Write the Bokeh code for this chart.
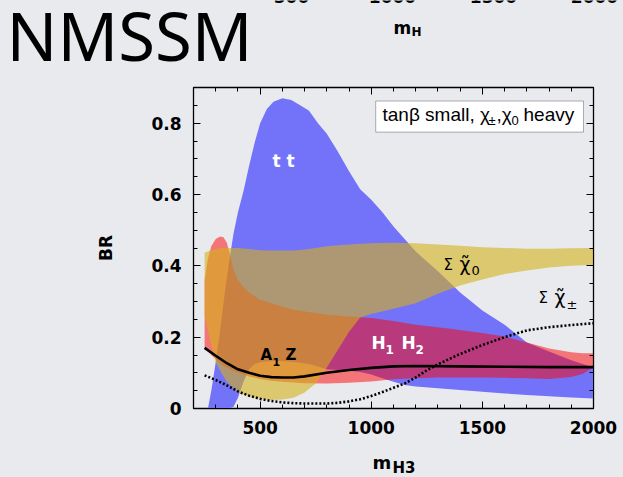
import numpy as np
from bokeh.plotting import figure
from bokeh.layouts import column
from bokeh.models import Range1d, LinearAxis, SingleIntervalTicker, Label, BoxAnnotation, Plot
from bokeh.embed import file_html
from bokeh.resources import INLINE

BG = "#e9eaee"

# ---- data ----
# t tbar band
tt_m = [265, 280, 300, 320, 340, 360, 380, 400, 425, 450, 475, 500, 530, 560, 600, 640, 680,
        720, 760, 800, 850, 900, 950, 1000, 1050, 1100, 1150, 1200, 1300, 1400, 1500, 1600,
        1700, 1800, 1900, 2000]
tt_hi = [0.0, 0.05, 0.13, 0.22, 0.32, 0.41, 0.49, 0.55, 0.61, 0.68, 0.745, 0.80, 0.84, 0.86,
         0.87, 0.865, 0.85, 0.835, 0.80, 0.77, 0.72, 0.665, 0.615, 0.585, 0.55, 0.51, 0.475,
         0.44, 0.385, 0.325, 0.275, 0.235, 0.185, 0.16, 0.135, 0.115]
tt_lo = [0.0, 0.0, 0.0, 0.0, 0.0, 0.0, 0.005, 0.03, 0.075, 0.11, 0.125, 0.13, 0.132, 0.133,
         0.133, 0.131, 0.128, 0.125, 0.118, 0.11, 0.108, 0.106, 0.102, 0.095, 0.085, 0.075,
         0.066, 0.062, 0.057, 0.052, 0.047, 0.042, 0.038, 0.034, 0.031, 0.028]

# H1 H2 band
hh_m = [250, 265, 280, 300, 320, 335, 350, 365, 380, 400, 425, 450, 500, 550, 600, 650, 700,
        800, 900, 1000, 1100, 1200, 1300, 1400, 1500, 1600, 1700, 1800, 1900, 1950, 2000]
hh_hi = [0.36, 0.42, 0.455, 0.475, 0.482, 0.48, 0.465, 0.43, 0.39, 0.36, 0.34, 0.325, 0.305,
         0.295, 0.285, 0.277, 0.272, 0.263, 0.258, 0.254, 0.245, 0.235, 0.228, 0.22, 0.212,
         0.202, 0.185, 0.168, 0.158, 0.155, 0.155]
hh_lo = [0.17, 0.16, 0.15, 0.138, 0.127, 0.12, 0.114, 0.109, 0.105, 0.1, 0.095, 0.09, 0.083,
         0.078, 0.075, 0.073, 0.071, 0.07, 0.072, 0.076, 0.082, 0.085, 0.087, 0.087, 0.087,
         0.086, 0.085, 0.083, 0.088, 0.097, 0.115]

# sum chi0 band
c0_m = [250, 275, 300, 325, 350, 400, 450, 500, 550, 600, 650, 700, 750, 800, 850, 900, 950,
        1000, 1100, 1200, 1300, 1400, 1500, 1600, 1700, 1800, 1900, 2000]
c0_hi = [0.437, 0.443, 0.447, 0.45, 0.45, 0.45, 0.447, 0.444, 0.443, 0.443, 0.443, 0.446,
         0.45, 0.455, 0.458, 0.46, 0.462, 0.463, 0.465, 0.463, 0.46, 0.456, 0.452, 0.45,
         0.448, 0.448, 0.449, 0.45]
c0_lo = [0.26, 0.19, 0.13, 0.10, 0.075, 0.045, 0.033, 0.027, 0.024, 0.025, 0.03, 0.045, 0.07,
         0.115, 0.165, 0.215, 0.255, 0.265, 0.28, 0.295, 0.322, 0.345, 0.362, 0.377, 0.387,
         0.395, 0.40, 0.403]

# A1 Z line
az_m = [250, 300, 350, 400, 450, 500, 550, 600, 650, 700, 800, 900, 1000, 1100, 1200, 1400,
        1600, 1800, 2000]
az_br = [0.17, 0.148, 0.127, 0.11, 0.1, 0.092, 0.088, 0.087, 0.087, 0.09, 0.1, 0.108, 0.114,
         0.118, 0.119, 0.118, 0.117, 0.116, 0.116]

# sum chi+- line
cpm_m = [250, 300, 350, 400, 450, 500, 550, 600, 650, 700, 750, 800, 850, 900, 950, 1000,
         1050, 1100, 1150, 1200, 1250, 1300, 1400, 1500, 1600, 1700, 1800, 1900, 2000]
cpm_br = [0.093, 0.08, 0.065, 0.048, 0.036, 0.027, 0.021, 0.017, 0.015, 0.014, 0.014, 0.014,
          0.016, 0.02, 0.026, 0.035, 0.046, 0.058, 0.07, 0.087, 0.107, 0.124, 0.153, 0.178,
          0.2, 0.219, 0.228, 0.234, 0.239]

x_ticks_top = ["500", "1000", "1500", "2000"]

W = 623
HEAD = 77
FOOT = 24
MAIN = 477 - HEAD - FOOT
HAS_FRAME_ALIGN = "frame_align" in Plot.properties()
BG_STYLE = {"background-color": BG}

# page pixel geometry of the main frame (used to place text annotations)
FX0, FX1, FY0, FY1 = 193, 593, 87, 408


def _shift(size):
    return 0.35 * size + 2


def lab(fig, text, px, py, size, font="DejaVu Sans", style="normal", color="black",
        align="left", where="main", angle=0.0, baseline="alphabetic"):
    """px, py: wanted left/baseline position in page pixels."""
    s = float(size.replace("px", ""))
    yy = py - (_shift(s) if baseline == "alphabetic" else 0)
    if where == "main":
        x = 200 + (px - FX0) * 1800.0 / (FX1 - FX0)
        y = (FY1 - yy) * 0.9 / (FY1 - FY0)
        kw = dict(x=x, y=y)
    elif where == "head":
        kw = dict(x=px, y=yy, x_units="canvas", y_units="canvas")
    else:
        kw = dict(x=px, y=yy - (477 - FOOT), x_units="canvas", y_units="canvas")
    fig.add_layout(Label(text=text, text_font=font, text_font_style=style,
                         text_font_size=size, text_color=color, text_align=align,
                         text_baseline=baseline, angle=angle, **kw))


def blank(height):
    f = figure(width=W, height=height, output_backend="svg", toolbar_location=None,
               x_axis_type=None, y_axis_type=None, min_border=0,
               x_range=Range1d(0, W), y_range=Range1d(height, 0),
               background_fill_color=BG, border_fill_color=BG)
    f.grid.visible = False
    f.outline_line_color = None
    f.styles = BG_STYLE
    if HAS_FRAME_ALIGN:
        f.frame_align = False
    return f


# ---- header: title and remnants of the chart above ----
head = blank(HEAD)
lab(head, "NMSSM", 6, 60, "67px", font="Noto Sans", where="head")
for t, cx in zip(x_ticks_top, [291, 392, 493, 594]):
    lab(head, t, cx, 4, "17px", style="bold", align="center", where="head")
lab(head, "m", 393, 35, "17px", style="bold", where="head")
lab(head, "H", 411, 38, "12px", style="bold", where="head")

# ---- main plot ----
p = figure(width=W, height=MAIN, output_backend="svg", toolbar_location=None,
           x_range=Range1d(200, 2000), y_range=Range1d(0, 0.9),
           min_border_left=193, min_border_right=30, min_border_top=10, min_border_bottom=45,
           background_fill_color=BG, border_fill_color=BG)
p.styles = BG_STYLE
if HAS_FRAME_ALIGN:
    p.frame_align = False
p.grid.visible = False
p.outline_line_color = "black"
p.outline_line_width = 1.3

p.xaxis.ticker = SingleIntervalTicker(interval=500, num_minor_ticks=5)
p.yaxis.ticker = SingleIntervalTicker(interval=0.2, num_minor_ticks=4)
p.yaxis.major_label_overrides = {0: "0"}
for ax in (p.xaxis[0], p.yaxis[0]):
    ax.major_tick_in = 7
    ax.major_tick_out = 0
    ax.minor_tick_in = 4
    ax.minor_tick_out = 0
    ax.axis_line_color = "black"
    ax.major_label_text_font = "DejaVu Sans"
    ax.major_label_text_font_style = "bold"
    ax.major_label_text_font_size = "17px"
    ax.major_label_text_color = "black"
    ax.major_label_standoff = 12
p.yaxis.axis_label = "BR"
p.yaxis.axis_label_text_font = "DejaVu Sans"
p.yaxis.axis_label_text_font_style = "bold"
p.yaxis.axis_label_text_font_size = "17px"
p.yaxis.axis_label_text_color = "black"
p.yaxis.axis_label_standoff = 32

p.add_layout(LinearAxis(ticker=SingleIntervalTicker(interval=500, num_minor_ticks=5),
                        major_tick_in=7, major_tick_out=0, minor_tick_in=4, minor_tick_out=0,
                        major_label_standoff=0, major_label_text_font_size="0px"), "above")
p.add_layout(LinearAxis(ticker=SingleIntervalTicker(interval=0.2, num_minor_ticks=4),
                        major_tick_in=7, major_tick_out=0, minor_tick_in=4, minor_tick_out=0,
                        major_label_standoff=0, major_label_text_font_size="0px"), "right")

p.varea(x=tt_m, y1=tt_lo, y2=tt_hi, fill_color="#7373FA", fill_alpha=1.0)
p.varea(x=hh_m, y1=hh_lo, y2=hh_hi, fill_color="#FF0000", fill_alpha=0.5)
p.varea(x=c0_m, y1=c0_lo, y2=c0_hi, fill_color="#D3B119", fill_alpha=0.6)
p.line(az_m, az_br, line_color="black", line_width=2.6)
p.line(cpm_m, cpm_br, line_color="black", line_width=2.6, line_dash="2 2")

p.add_layout(BoxAnnotation(left=1020, right=1955, bottom=0.775, top=0.862,
                           fill_color="white", fill_alpha=1.0, line_color="black",
                           line_width=1))

# legend box text
lab(p, "tanβ small, χ", 382, 123, "19px", font="Liberation Sans")
lab(p, "±", 488, 127, "13px", font="Liberation Sans")
lab(p, ",χ", 496, 123, "19px", font="Liberation Sans")
lab(p, "0", 511, 127, "13px", font="Liberation Sans")
lab(p, "heavy", 523, 123, "19px", font="Liberation Sans")

# curve labels
lab(p, "t t", 283, 168, "17px", style="bold", color="white", align="center")
lab(p, "A", 260, 362, "15px", style="bold")
lab(p, "1", 272, 367, "11px", style="bold")
lab(p, "Z", 285, 362, "15px", style="bold")
lab(p, "H", 371, 350, "17px", style="bold", color="white")
lab(p, "1", 385, 355, "12px", style="bold", color="white")
lab(p, "H", 401, 350, "17px", style="bold", color="white")
lab(p, "2", 415, 355, "12px", style="bold", color="white")
lab(p, "Σ", 443, 272, "15px")
lab(p, "χ̃", 459, 272, "19px")
lab(p, "0", 471, 277, "13px")
lab(p, "Σ", 538, 305, "15px")
lab(p, "χ̃", 554, 305, "19px")
lab(p, "±", 566, 311, "13px")

# ---- footer: x-axis title ----
foot = blank(FOOT)
lab(foot, "m", 372, 470, "18px", style="bold", where="foot")
lab(foot, "H3", 392, 475, "15px", style="bold", where="foot")

layout = column(head, p, foot, spacing=0)
layout.styles = BG_STYLE
html = file_html(layout, INLINE)
html = html.replace("<body>", '<body style="margin:0;background:%s">' % BG, 1)
open("out.html", "w").write(html)
